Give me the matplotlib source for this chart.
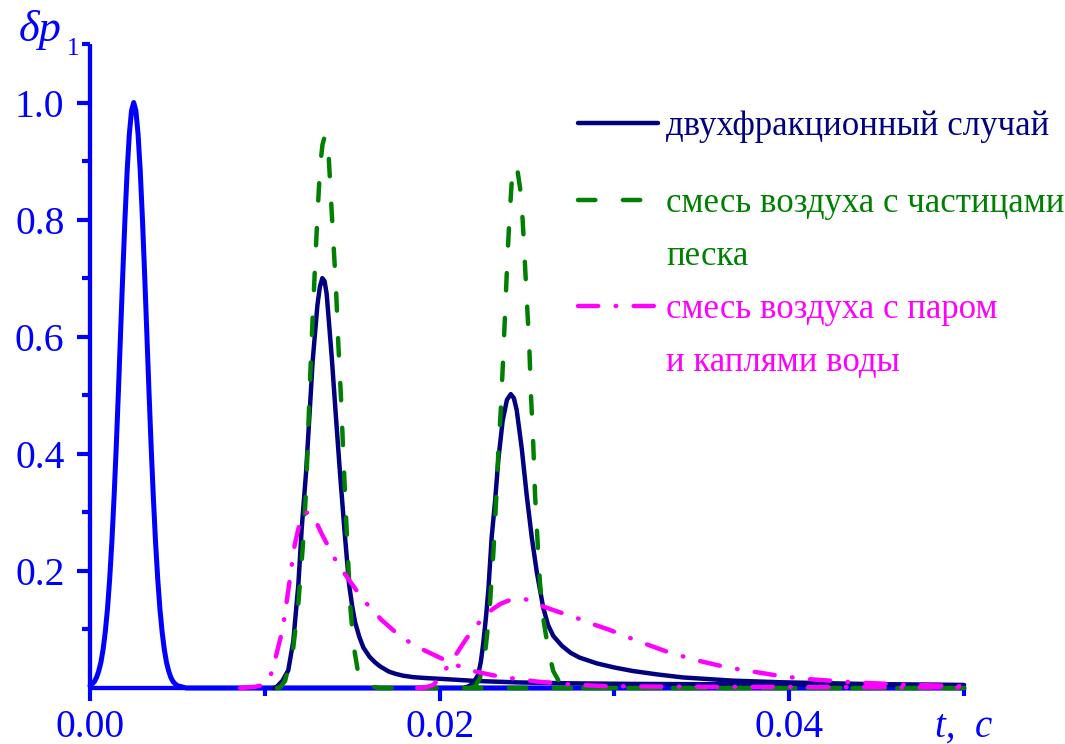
import matplotlib
matplotlib.use("Agg")
import matplotlib.pyplot as plt
from matplotlib.lines import Line2D
from matplotlib.ticker import FixedLocator, NullFormatter, FixedFormatter

plt.rcParams['lines.scale_dashes'] = False
plt.rcParams['font.family'] = ['Liberation Serif', 'DejaVu Serif']

# ---------------- data ----------------
# initial pulse
t_src = [0.0, 0.000125, 0.00025, 0.000375, 0.0005, 0.000625, 0.00075, 0.000875,
         0.001, 0.001125, 0.00125, 0.001375, 0.0015, 0.001625, 0.00175, 0.001875,
         0.002, 0.002125, 0.00225, 0.002375, 0.0025, 0.002625, 0.00275, 0.002875,
         0.003, 0.003125, 0.00325, 0.003375, 0.0035, 0.003625, 0.00375, 0.003875,
         0.004, 0.004125, 0.00425, 0.004375, 0.0045, 0.004625, 0.00475, 0.004875,
         0.005, 0.0055, 0.05]
p_src = [0.004, 0.007, 0.011, 0.018, 0.029, 0.044, 0.066, 0.096,
         0.135, 0.186, 0.249, 0.325, 0.411, 0.506, 0.607, 0.707,
         0.801, 0.883, 0.946, 0.986, 1.0, 0.986, 0.946, 0.883,
         0.801, 0.707, 0.607, 0.506, 0.411, 0.325, 0.249, 0.186,
         0.135, 0.096, 0.066, 0.044, 0.029, 0.018, 0.011, 0.007,
         0.004, 0.0, 0.0]

# two-fraction case (navy), first and second pulse
t_two_1 = [0.01050, 0.01068, 0.0110, 0.01134, 0.01163, 0.01192, 0.01211, 0.01236,
           0.01255, 0.01274, 0.01301, 0.01315, 0.01329, 0.01342, 0.01354, 0.01383,
           0.01407, 0.01430, 0.01455, 0.01482, 0.01500, 0.01516, 0.0154, 0.01564,
           0.0160, 0.0163, 0.01659, 0.0171, 0.0175, 0.01792, 0.0185, 0.0192,
           0.02014, 0.0221, 0.0245, 0.0275, 0.031, 0.035, 0.042, 0.05]
p_two_1 = [0.0, 0.002, 0.012, 0.03, 0.08, 0.177, 0.272, 0.368,
           0.463, 0.559, 0.654, 0.685, 0.70, 0.695, 0.673, 0.565,
           0.463, 0.368, 0.272, 0.177, 0.14, 0.113, 0.088, 0.069,
           0.053, 0.044, 0.037, 0.028, 0.024, 0.021, 0.0185, 0.017,
           0.0155, 0.012, 0.0095, 0.008, 0.007, 0.0065, 0.0057, 0.005]
t_two_2 = [0.02140, 0.02174, 0.02200, 0.02221, 0.02236, 0.0225, 0.02265, 0.02279,
           0.02298, 0.02317, 0.02336, 0.02361, 0.02385, 0.02407, 0.02425, 0.02441,
           0.0247, 0.02498, 0.02527, 0.02556, 0.02593, 0.0262, 0.0265, 0.0270,
           0.0275, 0.0280, 0.0290, 0.0300, 0.03106, 0.03250, 0.03393, 0.03679,
           0.03965, 0.04445, 0.05]
p_two_2 = [0.0, 0.004, 0.012, 0.023, 0.045, 0.077, 0.12, 0.168,
           0.258, 0.318, 0.39, 0.457, 0.492, 0.502, 0.495, 0.475,
           0.409, 0.33, 0.258, 0.198, 0.137, 0.108, 0.089, 0.072,
           0.060, 0.052, 0.042, 0.035, 0.029, 0.023, 0.018, 0.0125,
           0.0097, 0.0068, 0.005]

# air + sand particles (green)
t_sand_1 = [0.01070, 0.01087, 0.01116, 0.01163, 0.01192, 0.01217, 0.01236, 0.01249,
            0.01259, 0.01274, 0.01287, 0.01300, 0.01316, 0.01330, 0.01344, 0.01363,
            0.01377, 0.01392, 0.01407, 0.01420, 0.01436, 0.01449, 0.01463, 0.01478,
            0.01491, 0.01510, 0.01535, 0.01583, 0.01659, 0.05]
p_sand_1 = [0.0, 0.001, 0.012, 0.069, 0.145, 0.24, 0.336, 0.444,
            0.527, 0.635, 0.718, 0.80, 0.89, 0.928, 0.944, 0.922,
            0.845, 0.763, 0.686, 0.591, 0.495, 0.40, 0.304, 0.209,
            0.132, 0.069, 0.024, 0.004, 0.0, 0.0]
t_sand_2 = [0.02174, 0.02203, 0.02231, 0.0226, 0.02284, 0.02307, 0.02323, 0.02336,
            0.0235, 0.02364, 0.02376, 0.02387, 0.02399, 0.02412, 0.02431, 0.02445,
            0.0246, 0.02475, 0.02489, 0.02498, 0.02513, 0.02523, 0.02536, 0.02546,
            0.02559, 0.02574, 0.02593, 0.02622, 0.0265, 0.02689, 0.02746, 0.028, 0.05]
p_sand_2 = [0.0, 0.003, 0.017, 0.059, 0.125, 0.228, 0.318, 0.403,
            0.475, 0.566, 0.65, 0.728, 0.80, 0.861, 0.894, 0.885,
            0.855, 0.80, 0.72, 0.668, 0.584, 0.499, 0.415, 0.33,
            0.258, 0.18, 0.119, 0.065, 0.029, 0.008, 0.002, 0.0, 0.0]

# air + vapour + water droplets (magenta)
t_vap_1 = [0.00858, 0.00944, 0.01001, 0.0103, 0.01049, 0.0107, 0.01102, 0.01136,
           0.01165, 0.01175, 0.01200, 0.01222, 0.0125, 0.0127, 0.01287, 0.01326,
           0.0137, 0.01411, 0.01469, 0.01545, 0.016, 0.01669, 0.01764, 0.01859,
           0.01993, 0.02078, 0.02191, 0.023, 0.02403, 0.02557, 0.02746, 0.02958,
           0.0349, 0.05]
p_vap_1 = [0.0, 0.002, 0.006, 0.018, 0.037, 0.062, 0.10, 0.17,
           0.234, 0.250, 0.282, 0.298, 0.300, 0.295, 0.288, 0.263,
           0.238, 0.215, 0.19, 0.158, 0.138, 0.116, 0.091, 0.072,
           0.053, 0.041, 0.029, 0.022, 0.017, 0.011, 0.006, 0.003,
           0.002, 0.001]
t_vap_2 = [0.01871, 0.0192, 0.01962, 0.0199, 0.02016, 0.0205, 0.0210, 0.0215,
           0.0220, 0.0225, 0.0230, 0.0235, 0.0240, 0.0245, 0.0250, 0.02560,
           0.02613, 0.02680, 0.02746, 0.02878, 0.02975, 0.03135, 0.03301, 0.03461,
           0.03633, 0.03793, 0.03959, 0.04119, 0.04348, 0.04634, 0.05]
p_vap_2 = [0.0, 0.001, 0.005, 0.013, 0.025, 0.038, 0.060, 0.083,
           0.103, 0.12, 0.134, 0.144, 0.150, 0.153, 0.151, 0.143,
           0.137, 0.130, 0.124, 0.109, 0.099, 0.080, 0.062, 0.048,
           0.036, 0.028, 0.020, 0.015, 0.010, 0.006, 0.003]

labels = ["двухфракционный случай",
          "смесь воздуха с частицами", "песка",
          "смесь воздуха с паром", "и каплями воды"]

x_major = [0.0, 0.02, 0.04]
x_major_labels = ["0.00", "0.02", "0.04"]
x_minor = [0.01, 0.03, 0.05]
y_major = [0.2, 0.4, 0.6, 0.8, 1.0]
y_major_labels = ["0.2", "0.4", "0.6", "0.8", "1.0"]
y_minor = [0.1, 0.3, 0.5, 0.7, 0.9, 1.1]

# ---------------- styles ----------------
BLUE = "#0000FF"
NAVY = "#000080"
GREEN = "#008000"
MAG = "#FF00FF"
LW = 3.2
dash_green = (0, (12.5, 19.8))
dash_mag = (0, (14.5, 12.6, 0.4, 12.6))

W, H = 1065, 744
fig = plt.figure(figsize=(W / 100, H / 100), dpi=100)
ax = fig.add_axes([90 / W, 56 / H, 874 / W, 644 / H])

common = dict(clip_on=False, zorder=3, solid_capstyle='round', dash_capstyle='round',
              solid_joinstyle='round')
ax.plot(t_src, p_src, color=BLUE, lw=3.6, **common)
ax.plot(t_two_1, p_two_1, color=NAVY, lw=LW, **common)
ax.plot(t_two_2, p_two_2, color=NAVY, lw=LW, **common)
ax.plot(t_sand_1, p_sand_1, color=GREEN, lw=LW, linestyle=dash_green, **common)
ax.plot(t_sand_2, p_sand_2, color=GREEN, lw=LW, linestyle=dash_green, **common)
ax.plot(t_vap_1, p_vap_1, color=MAG, lw=LW, linestyle=dash_mag, **common)
ax.plot(t_vap_2, p_vap_2, color=MAG, lw=LW, linestyle=dash_mag, **common)

ax.set_xlim(0, 0.05)
ax.set_ylim(0, 1.1)
for s in ['top', 'right']:
    ax.spines[s].set_visible(False)
for s in ['left', 'bottom']:
    ax.spines[s].set_color(BLUE)
    ax.spines[s].set_linewidth(3.1)
    ax.spines[s].set_capstyle('butt')

ax.xaxis.set_major_locator(FixedLocator(x_major))
ax.xaxis.set_major_formatter(FixedFormatter(x_major_labels))
ax.xaxis.set_minor_locator(FixedLocator(x_minor))
ax.xaxis.set_minor_formatter(NullFormatter())
ax.yaxis.set_major_locator(FixedLocator(y_major))
ax.yaxis.set_major_formatter(FixedFormatter(y_major_labels))
ax.yaxis.set_minor_locator(FixedLocator(y_minor))
ax.yaxis.set_minor_formatter(NullFormatter())

ax.tick_params(which='major', length=9.4, width=3.0, color=BLUE, labelcolor=BLUE,
               labelsize=28.5, direction='out')
ax.tick_params(which='minor', length=5.8, width=3.0, color=BLUE, direction='out')
ax.tick_params(axis='y', which='major', pad=9)
ax.tick_params(axis='x', which='major', pad=5.5)

# axis titles
ax.text(0.05, (688 - 737) / 644, "t,  c", transform=ax.get_xaxis_transform(),
        ha='center', va='baseline', fontsize=28, style='italic', color=BLUE)
fig.text(19 / W, 1 - 41 / H, "δp", ha='left', va='baseline', fontsize=32,
         style='italic', color=BLUE)
fig.text(67 / W, 1 - 55 / H, "1", ha='left', va='baseline', fontsize=18, color=BLUE)

# legends
h_two = Line2D([], [], color=NAVY, lw=LW, solid_capstyle='round')
h_sand = Line2D([], [], color=GREEN, lw=LW, linestyle=dash_green, dash_capstyle='round')
h_vap = Line2D([], [], color=MAG, lw=LW, linestyle=dash_mag, dash_capstyle='round')
h_none = Line2D([], [], linestyle='none')

fs = 25
fpx = fs / 0.72
legkw = dict(frameon=False, loc='upper left', borderpad=0, borderaxespad=0,
             handlelength=80 / fpx, handletextpad=8 / fpx, fontsize=fs,
             bbox_transform=fig.transFigure)
leg1 = ax.legend([h_two], [labels[0]], bbox_to_anchor=(578 / W, 1 - 110 / H),
                 labelcolor=[NAVY], **legkw)
ax.add_artist(leg1)
leg2 = ax.legend([h_sand, h_none, h_vap, h_none], labels[1:],
                 bbox_to_anchor=(578 / W, 1 - 187 / H), labelspacing=0.58,
                 labelcolor=[GREEN, GREEN, MAG, MAG], **legkw)

fig.savefig("out.png", dpi=100)
